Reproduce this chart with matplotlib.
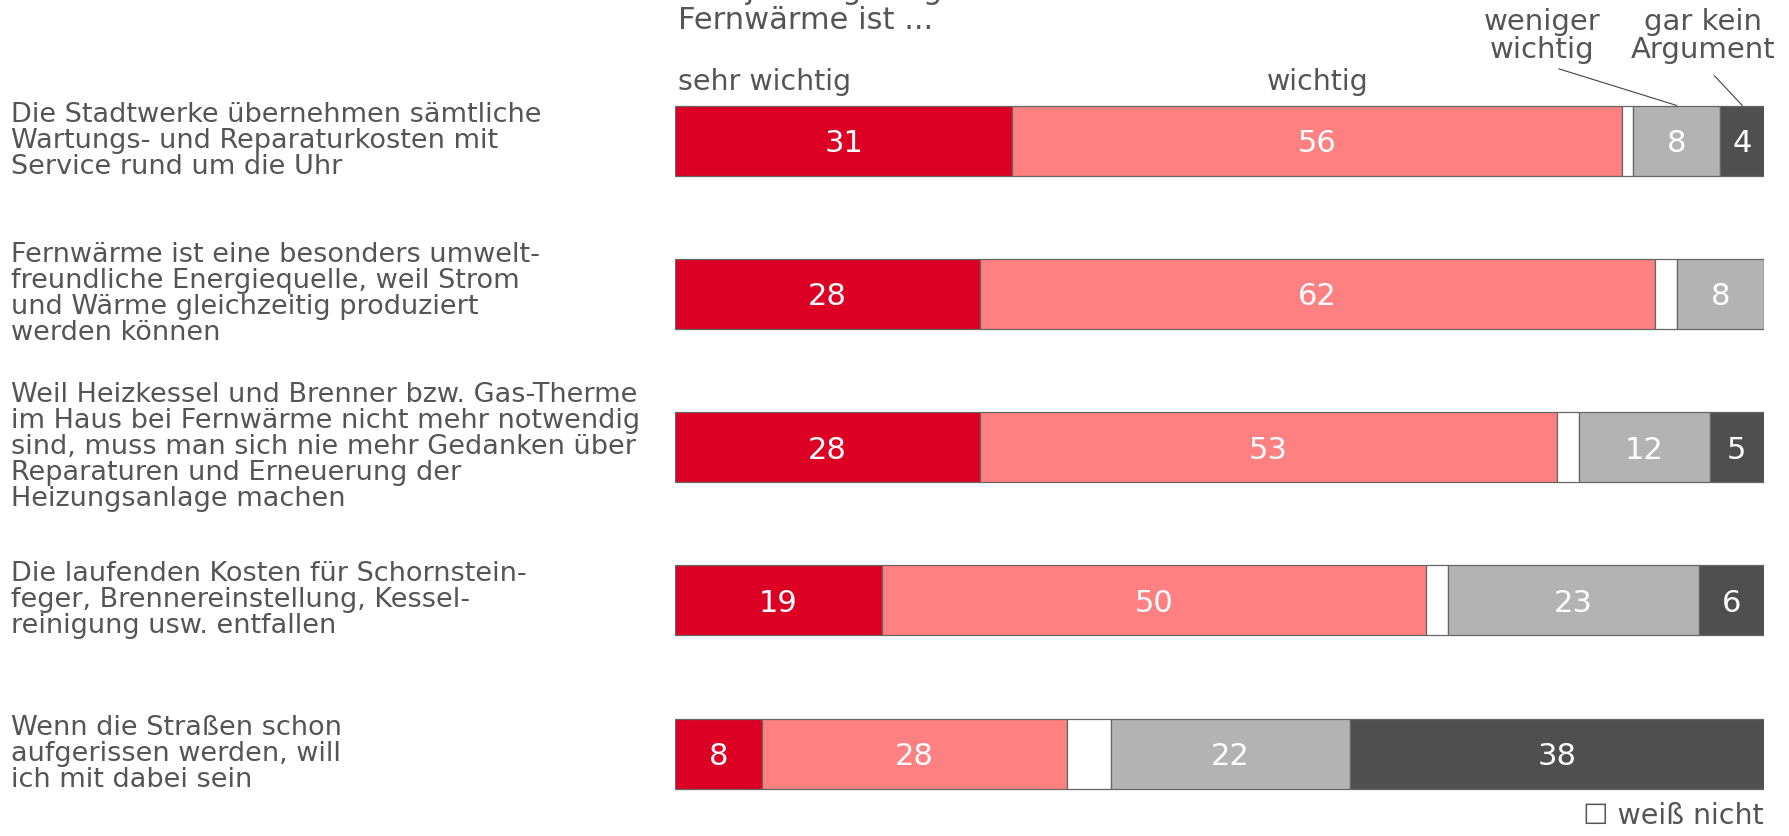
import matplotlib.pyplot as plt
import numpy as np

categories = [
    "Die Stadtwerke übernehmen sämtliche\nWartungs- und Reparaturkosten mit\nService rund um die Uhr",
    "Fernwärme ist eine besonders umwelt-\nfreundliche Energiequelle, weil Strom\nund Wärme gleichzeitig produziert\nwerden können",
    "Weil Heizkessel und Brenner bzw. Gas-Therme\nim Haus bei Fernwärme nicht mehr notwendig\nsind, muss man sich nie mehr Gedanken über\nReparaturen und Erneuerung der\nHeizungsanlage machen",
    "Die laufenden Kosten für Schornstein-\nfeger, Brennereinstellung, Kessel-\nreinigung usw. entfallen",
    "Wenn die Straßen schon\naufgerissen werden, will\nich mit dabei sein",
]
sehr_wichtig = [31, 28, 28, 19, 8]
wichtig = [56, 62, 53, 50, 28]
weiss_nicht = [1, 2, 2, 2, 4]
weniger_wichtig = [8, 8, 12, 23, 22]
gar_kein = [4, 0, 5, 6, 38]

series = [
    (sehr_wichtig, "#dc0025", True),
    (wichtig, "#ff8080", True),
    (weiss_nicht, "#ffffff", False),
    (weniger_wichtig, "#b3b3b3", True),
    (gar_kein, "#4f4f4f", True),
]

txt = "#555555"
plt.rcParams['font.family'] = ['DejaVu Sans']

fig = plt.figure(figsize=(17.9, 8.36), dpi=100)
ax = fig.add_axes([0.377, 0.0, 0.6085, 1.0])

y = np.arange(len(categories))
h = 0.457
left = np.zeros(len(categories))
for vals, col, show in series:
    vals = np.array(vals, dtype=float)
    ax.barh(y, vals, left=left, height=h, color=col, edgecolor="#666666", linewidth=0.9)
    if show:
        for yi, v, l in zip(y, vals, left):
            if v > 0:
                ax.text(l + v / 2, yi, f"{int(v)}", ha="center", va="center_baseline",
                        color="white", fontsize=22)
    left += vals

ax.set_xlim(0, 100)
ax.set_ylim(4.538, -0.917)
ax.axis("off")

for yi, c in zip(y, categories):
    ax.text(-0.609, yi, c, transform=ax.get_yaxis_transform(), ha="left", va="center",
            fontsize=19.5, color=txt, linespacing=1.0)

# header texts (first line is cut at the top edge, as in the source)
ax.text(0.3, -0.98, "Das jeweilige Argument für die", fontsize=22, color=txt,
        ha="left", va="center", clip_on=False)
ax.text(0.3, -0.78, "Fernwärme ist ...", fontsize=22, color=txt, ha="left", va="center")
ax.text(0.3, -0.38, "sehr wichtig", fontsize=20.5, color=txt, ha="left", va="center")
ax.text(sehr_wichtig[0] + wichtig[0] / 2, -0.38, "wichtig", fontsize=20.5, color=txt,
        ha="center", va="center")

x_wen = sehr_wichtig[0] + wichtig[0] + weiss_nicht[0] + weniger_wichtig[0] / 2
x_gar = 100 - gar_kein[0] / 2
ax.annotate("weniger\nwichtig", xy=(x_wen, -h / 2), xytext=(79.6, -0.685),
            ha="center", va="center", fontsize=21, color=txt, linespacing=1.0,
            arrowprops=dict(arrowstyle="-", color="#444444", lw=0.8,
                            relpos=(0.5, 0.0), shrinkA=6, shrinkB=0))
ax.annotate("gar kein\nArgument", xy=(x_gar, -h / 2), xytext=(94.4, -0.685),
            ha="center", va="center", fontsize=21, color=txt, linespacing=1.0,
            arrowprops=dict(arrowstyle="-", color="#444444", lw=0.8,
                            relpos=(0.5, 0.0), shrinkA=9, shrinkB=0))

ax.text(100, 4.41, "\u2610 weiß nicht", fontsize=20.5, color=txt, ha="right", va="center")

fig.savefig("out.png", dpi=100)
